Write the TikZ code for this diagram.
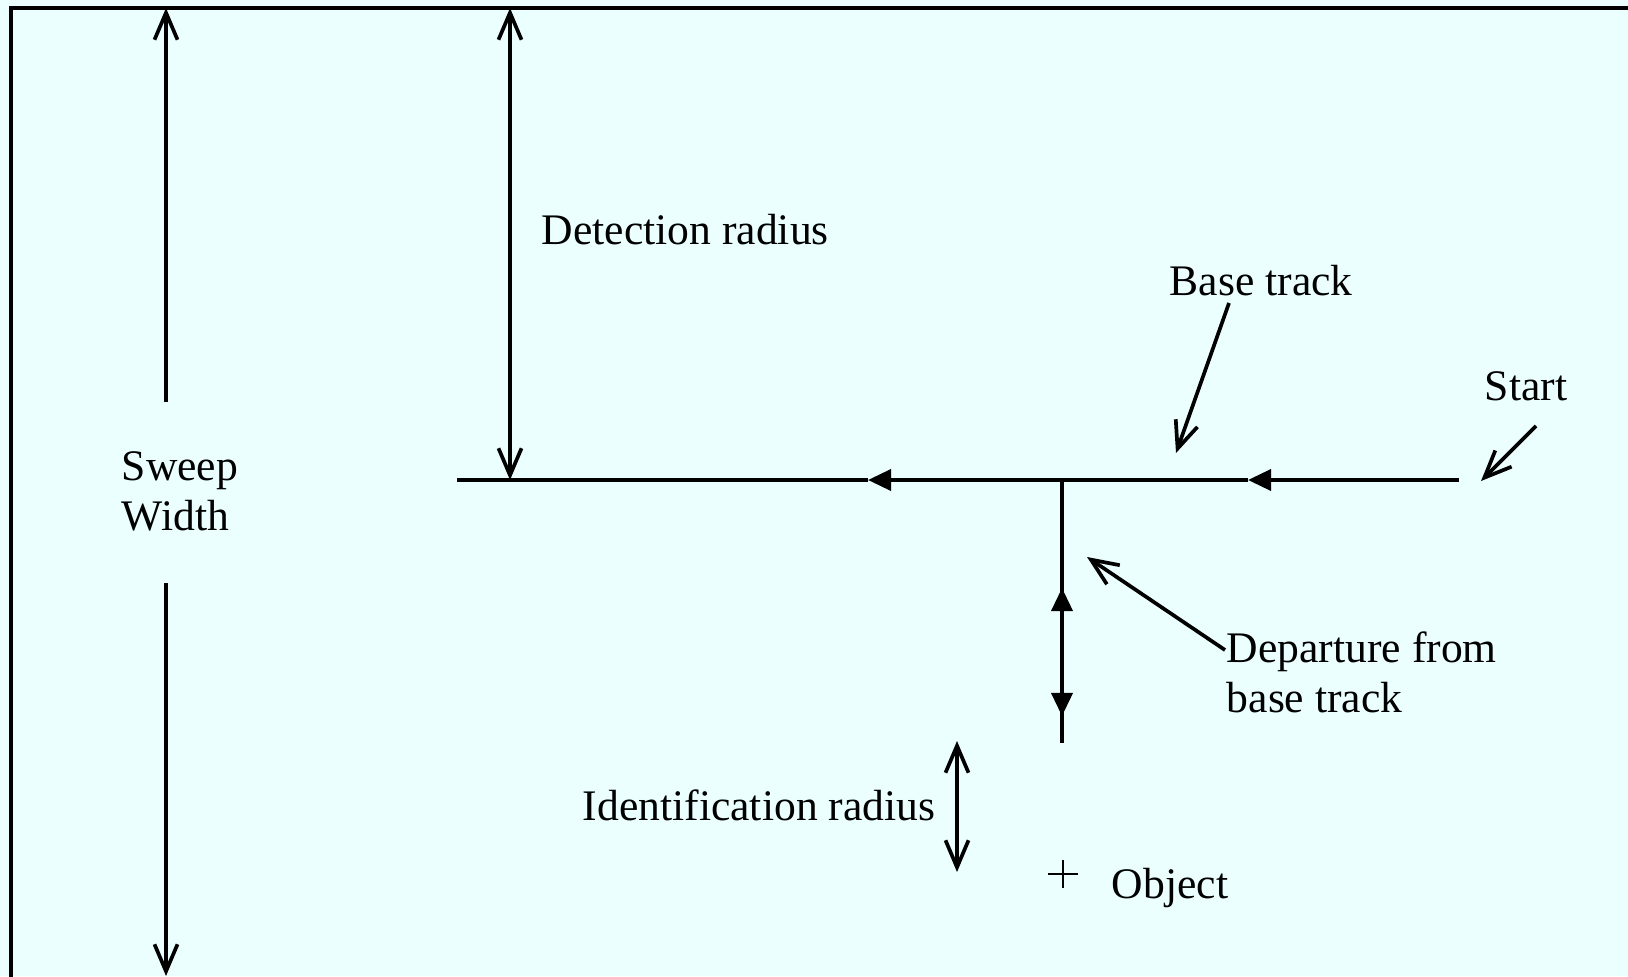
\documentclass[tikz,border=0pt]{standalone}
\usepackage{fontspec}
\setmainfont{Liberation Serif}
\usetikzlibrary{arrows.meta,positioning}
\definecolor{sweepBg}{RGB}{235,255,255}

\begin{document}
\begin{tikzpicture}[x=0.01cm,y=-0.01cm,line width=1.05pt,
  lbl/.style={inner sep=0pt,font=\fontsize{12.4}{14.1}\selectfont,anchor=base west},
  dimline/.style={{Straight Barb[length=2.7mm,width=2.3mm]}-{Straight Barb[length=2.7mm,width=2.3mm]}},
  pointer/.style={-{Straight Barb[length=2.7mm,width=2.3mm]}},
  trackhead/.style={-{Triangle[length=2.3mm,width=2.1mm]}}]
  \useasboundingbox (0,0) rectangle (1628,976);
  \fill[sweepBg] (0,0) rectangle (1628,976);
  \clip (0,0) rectangle (1628,976);
  \draw (11,1100) -- (11,8) -- (1700,8);

  % labels (base = last line)
  \node[lbl,align=left] (sweep) at (120,530) {Sweep\\Width};
  \node[lbl] (detect) at (540,244) {Detection radius};
  \node[lbl] (base) at (1168,295) {Base track};
  \node[lbl] (start) at (1483,400) {Start};
  \node[lbl,align=left] (depart) at (1225,712) {Departure from\\base track};
  \node[lbl] (ident) at (581,820) {Identification radius};
  \node[lbl] (object) at (1110,898) {Object};

  % sweep width
  \coordinate (swTop) at (166,8);
  \coordinate (swUp) at (166,402);
  \coordinate (swDown) at (166,583);
  \coordinate (swBot) at (166,976);
  \draw[pointer] (swUp) -- (swTop);
  \draw[pointer] (swDown) -- (swBot);

  % detection radius
  \coordinate (drTop) at (510,8);
  \coordinate (drBot) at (510,480);
  \draw[dimline] (drTop) -- (drBot);

  % base track
  \coordinate (trackE) at (1459,480);
  \coordinate (headE) at (1248,480);
  \coordinate (headW) at (868,480);
  \coordinate (trackW) at (457,480);
  \draw[trackhead] (trackE) -- (headE);
  \draw[trackhead] (headE) -- (headW);
  \draw (headW) -- (trackW);

  % departure
  \coordinate (junction) at (1062,480);
  \coordinate (depEnd) at (1062,743);
  \coordinate (depMid) at (1062,650);
  \coordinate (depUp) at (1062,588);
  \coordinate (depDown) at (1062,716);
  \draw (junction) -- (depEnd);
  \draw[trackhead] (depMid) -- (depUp);
  \draw[trackhead] (depMid) -- (depDown);

  % pointers
  \coordinate (baseFrom) at (1229,303);
  \coordinate (baseTip) at (1176,453);
  \draw[pointer] (baseFrom) -- (baseTip);
  \coordinate (startFrom) at (1536,426);
  \coordinate (startTip) at (1481,481);
  \draw[pointer] (startFrom) -- (startTip);
  \coordinate (depFrom) at (1225,650);
  \coordinate (depTip) at (1087,557);
  \draw[pointer] (depFrom) -- (depTip);

  % identification radius
  \coordinate (idTop) at (957,741);
  \coordinate (idBot) at (957,872);
  \draw[dimline] (idTop) -- (idBot);

  % object
  \coordinate (obj) at (1063,874);
  \draw[line width=0.4pt] ([xshift=-0.15cm]obj) -- ([xshift=0.15cm]obj)
    ([yshift=-0.14cm]obj) -- ([yshift=0.14cm]obj);
\end{tikzpicture}
\end{document}
